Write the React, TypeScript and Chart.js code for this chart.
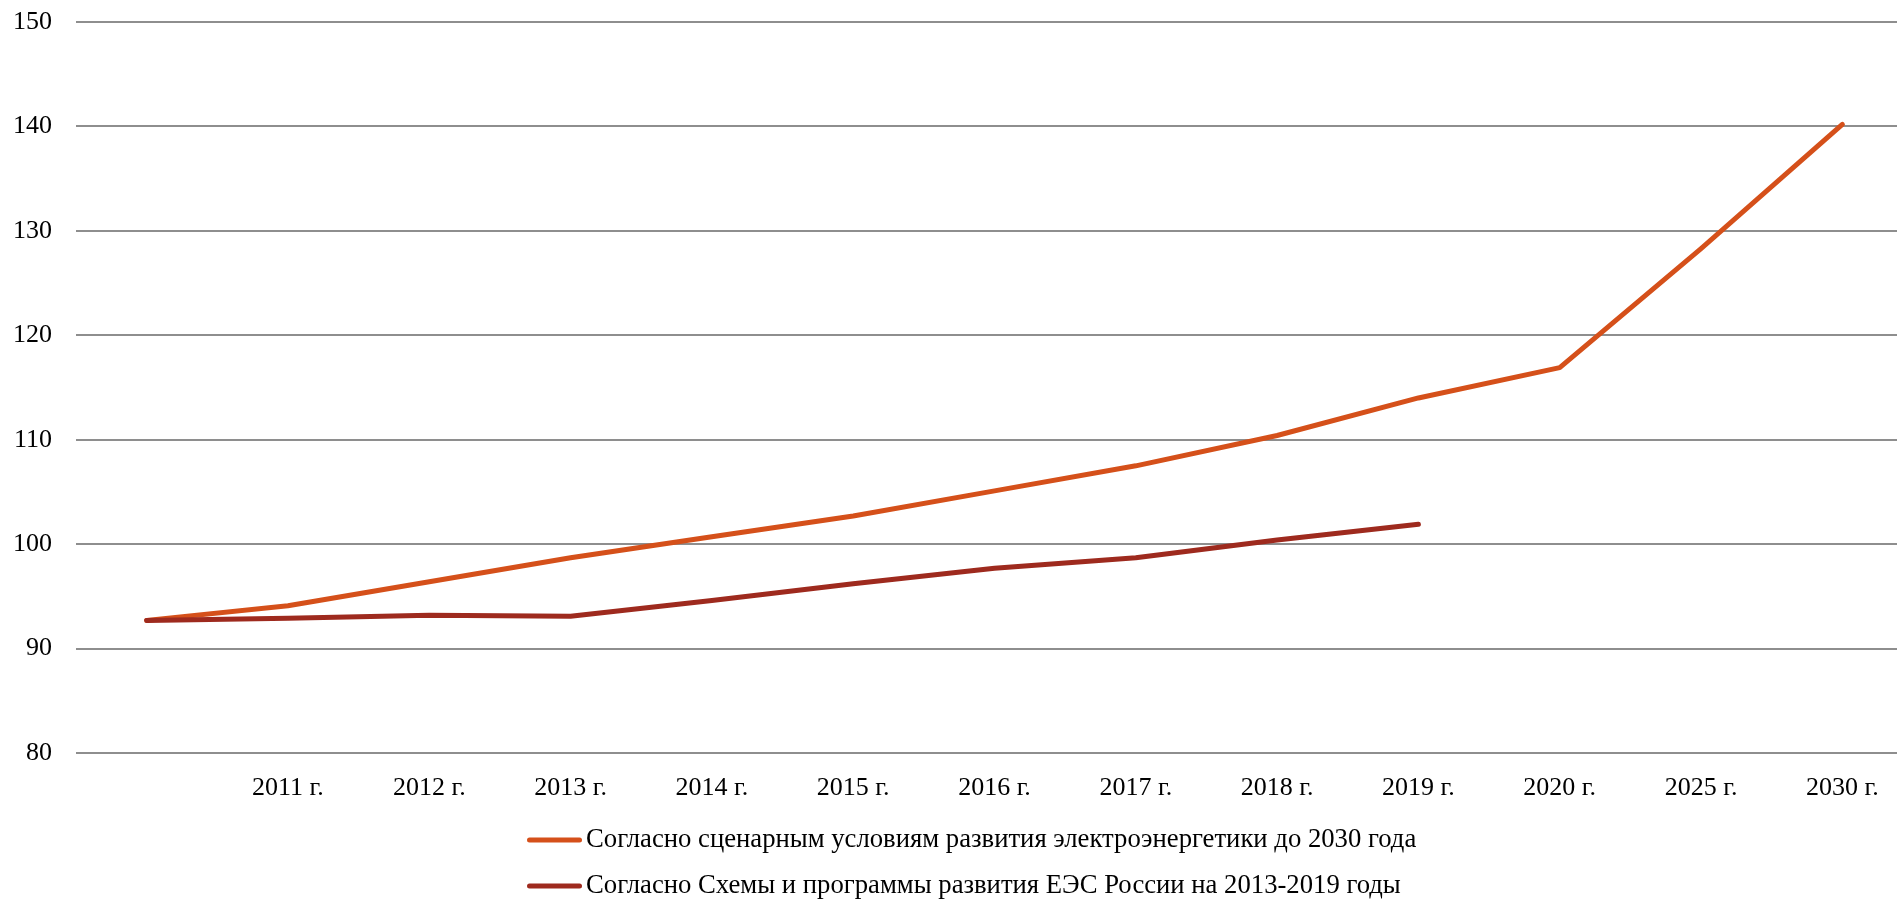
import React, { useEffect, useRef } from 'react';
import { Chart, registerables } from 'chart.js';

Chart.register(...registerables);

// ---- data ----
const categories = ['', '2011 г.', '2012 г.', '2013 г.', '2014 г.', '2015 г.', '2016 г.', '2017 г.', '2018 г.', '2019 г.', '2020 г.', '2025 г.', '2030 г.'];

const scenarioLabel = 'Согласно сценарным условиям развития электроэнергетики до 2030 года';
const scenarioValues = [92.7, 94.1, 96.4, 98.7, 100.7, 102.7, 105.1, 107.5, 110.4, 114.0, 116.9, 128.3, 140.2];

const schemeLabel = 'Согласно Схемы и программы развития ЕЭС России на 2013-2019 годы';
const schemeValues: (number | null)[] = [92.7, 92.9, 93.2, 93.1, 94.6, 96.2, 97.7, 98.7, 100.4, 101.9, null, null, null];

const yMin = 80;
const yMax = 150;
const yStep = 10;

// ---- style ----
const FONT_FAMILY = '"Liberation Serif", "Times New Roman", serif';
const FONT_SIZE = 26;
const LEGEND_FONT_SIZE = 26.7;
const ORANGE = '#D5501A';
const BROWN = '#9E2A1E';
const GRID = '#8e8e8e';
const LEGEND_LEFT = 527;
const LEGEND_FIRST_Y = 840;
const LEGEND_ROW = 46;
const LEGEND_LINE = 55;

const stackedLegend = {
  id: 'stackedLegend',
  afterDraw(chart: any) {
    const ctx = chart.ctx;
    ctx.save();
    ctx.font = `${LEGEND_FONT_SIZE}px ${FONT_FAMILY}`;
    ctx.textBaseline = 'middle';
    ctx.textAlign = 'left';
    chart.data.datasets.forEach((ds: any, i: number) => {
      const y = LEGEND_FIRST_Y + i * LEGEND_ROW;
      ctx.strokeStyle = ds.borderColor;
      ctx.lineWidth = 5;
      ctx.lineCap = 'round';
      ctx.beginPath();
      ctx.moveTo(LEGEND_LEFT + 2.5, y);
      ctx.lineTo(LEGEND_LEFT + LEGEND_LINE - 2.5, y);
      ctx.stroke();
      ctx.fillStyle = '#000';
      ctx.fillText(ds.label, LEGEND_LEFT + LEGEND_LINE + 4, y);
    });
    ctx.restore();
  },
};

export default function App() {
  const canvasRef = useRef<HTMLCanvasElement | null>(null);

  useEffect(() => {
    if (!canvasRef.current) return;
    const chart = new Chart(canvasRef.current, {
      type: 'line',
      data: {
        labels: categories,
        datasets: [
          {
            label: scenarioLabel,
            data: scenarioValues,
            borderColor: ORANGE,
            backgroundColor: ORANGE,
            borderWidth: 5,
            borderCapStyle: 'round',
            borderJoinStyle: 'round',
            pointRadius: 0,
            tension: 0,
            order: 1,
          },
          {
            label: schemeLabel,
            data: schemeValues,
            borderColor: BROWN,
            backgroundColor: BROWN,
            borderWidth: 5,
            borderCapStyle: 'round',
            borderJoinStyle: 'round',
            pointRadius: 0,
            tension: 0,
            order: 0,
          },
        ],
      },
      options: {
        animation: false,
        responsive: true,
        maintainAspectRatio: false,
        layout: { padding: { top: 22, left: 0, right: 7, bottom: 88 } },
        plugins: {
          legend: { display: false },
          tooltip: { enabled: false },
        },
        scales: {
          x: {
            offset: true,
            grid: { display: false },
            border: { display: false },
            ticks: {
              autoSkip: false,
              maxRotation: 0,
              minRotation: 0,
              padding: 12,
              color: '#000',
              font: { family: FONT_FAMILY, size: FONT_SIZE },
            },
            afterFit(scale: any) {
              scale.height = 60;
            },
          },
          y: {
            min: yMin,
            max: yMax,
            grid: { color: GRID, lineWidth: 2, drawTicks: true, tickLength: 24, tickColor: 'rgba(0,0,0,0)' },
            border: { display: false },
            ticks: {
              stepSize: yStep,
              padding: 0,
              color: '#000',
              font: { family: FONT_FAMILY, size: FONT_SIZE },
            },
            afterFit(scale: any) {
              scale.width = 76;
            },
          },
        },
      },
      plugins: [stackedLegend],
    } as any);
    return () => chart.destroy();
  }, []);

  return (
    <div style={{ position: 'fixed', left: 0, top: 0, width: 1897, height: 901, overflow: 'hidden', background: '#fff' }}>
      <div style={{ position: 'relative', width: 1920, height: 901 }}>
        <canvas ref={canvasRef} />
      </div>
    </div>
  );
}
